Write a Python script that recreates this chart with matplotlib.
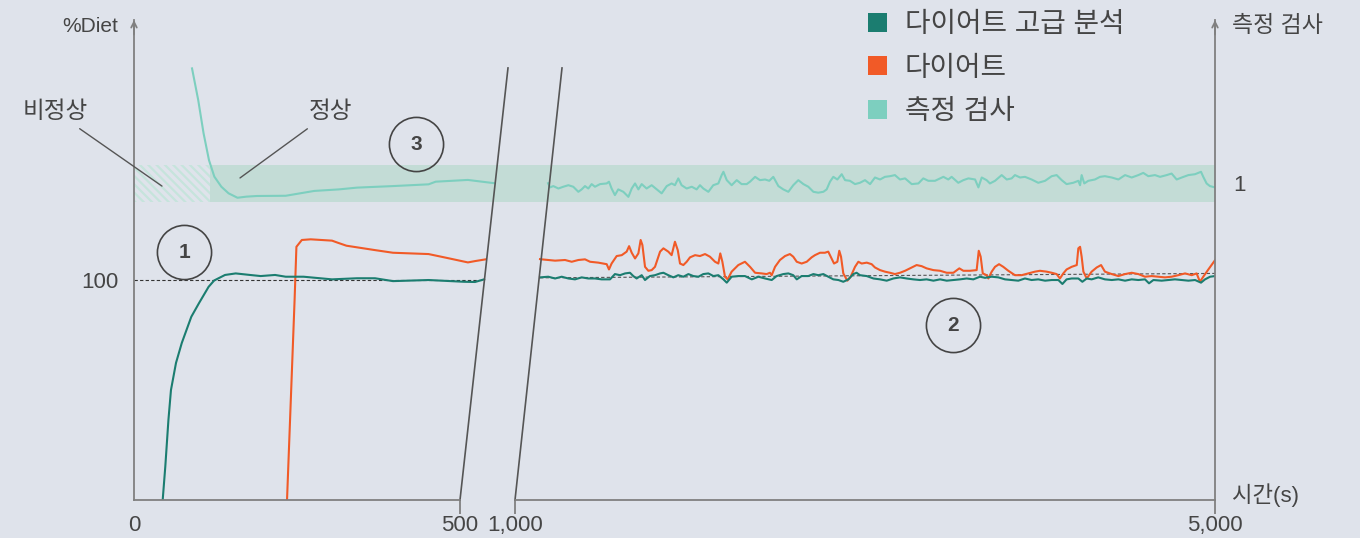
import matplotlib
matplotlib.use("Agg")
import matplotlib.pyplot as plt
from matplotlib.patches import Rectangle, Patch

plt.rcParams['font.family'] = ['Liberation Sans', 'Noto Sans CJK KR']
plt.rcParams['hatch.linewidth'] = 1.6

BG = "#dfe3eb"
TEAL = "#1b7d70"
ORANGE = "#f15a27"
LIGHT = "#7dcfbf"
BAND = "#c3dcd6"
TXT = "#454545"
AXC = "#808080"

# ---- data: 0-500 s (left part) ----
adv_t_a = [44, 48, 52.8, 56.7, 64.4, 73.3, 87.9, 99.7, 114.4, 123, 139.6, 156, 177.9, 194.3,
           216.3, 232.7, 260.1, 303.7, 342, 369.6, 397.2, 451.8, 506, 523, 537]
adv_v_a = [0, 15.2, 36.4, 50, 62.3, 71.4, 83.3, 89.5, 96.9, 99.8, 102.3, 103, 102.3, 101.8,
           102.3, 101.5, 101.5, 100.3, 100.8, 100.8, 99.5, 100, 99.2, 99.1, 100.3]

diet_t_a = [234.7, 246.3, 249.1, 257.4, 271, 303.7, 312.1, 325.8, 369.6, 397.1, 451.8, 479.1,
            512.1, 523, 539.4]
diet_v_a = [0, 90.9, 115.1, 118.2, 118.5, 117.9, 117, 115.6, 113.6, 112.4, 111.8, 110.1,
            108, 108.6, 109.4]

test_t_a = [89, 98.5, 106.7, 115, 123.2, 134, 145.1, 158.7, 172.4, 188.7, 232.7, 276.5, 314.4,
            342, 397.1, 451.8, 462.7, 512.1, 533.7, 553]
test_v_a = [196.2, 181.8, 166.7, 154.5, 147, 142.4, 139.4, 137.4, 137.9, 138.2, 138.3, 140.5,
            141.2, 142, 142.7, 143.5, 144.7, 145.5, 144.7, 144]

# ---- data: 1,000-5,000 s (right part) ----
diet_t_b = [1143, 1152, 1229, 1286, 1324, 1362, 1400, 1429, 1476, 1524, 1537, 1552, 1581, 1610,
            1638, 1652, 1667, 1686, 1705, 1718, 1728, 1743, 1762, 1781, 1800, 1829, 1848, 1876,
            1895, 1914, 1930, 1943, 1962, 1981, 2000, 2029, 2057, 2086, 2114, 2143, 2162, 2173,
            2185, 2200, 2215, 2238, 2276, 2314, 2343, 2372, 2410, 2438, 2457, 2467, 2486, 2514,
            2543, 2571, 2590, 2610, 2638, 2667, 2695, 2714, 2743, 2771, 2790, 2804, 2823, 2842,
            2853, 2863, 2876, 2899, 2918, 2943, 2962, 2981, 3010, 3038, 3057, 3086, 3114, 3143,
            3171, 3200, 3229, 3257, 3295, 3324, 3352, 3391, 3429, 3467, 3505, 3539, 3562, 3600,
            3638, 3650, 3661, 3673, 3695, 3705, 3724, 3743, 3766, 3790, 3819, 3857, 3895, 3933,
            3971, 4000, 4038, 4067, 4095, 4114, 4133, 4152, 4181, 4210, 4219, 4229, 4238, 4248,
            4267, 4295, 4324, 4349, 4371, 4410, 4448, 4486, 4524, 4562, 4600, 4638, 4676, 4714,
            4752, 4790, 4829, 4867, 4895, 4914, 4933, 4962, 5000]
diet_v_b = [109.5, 109.4, 108.8, 109.1, 108.3, 109.1, 109.4, 108.3, 107.9, 107.2, 104.8, 107.5,
            110.9, 111.3, 112.9, 115.4, 112.4, 109.8, 112.1, 118.2, 115.9, 106.0, 104.2, 104.5,
            106.0, 112.9, 114.4, 112.9, 111.3, 117.4, 113.6, 107.5, 106.8, 108.3, 110.3, 111.3,
            110.9, 111.8, 110.6, 108.3, 107.5, 112.1, 108.3, 101.5, 100.3, 103.8, 106.8, 108.3,
            106.0, 103.3, 103.0, 102.7, 103.3, 102.2, 106.0, 109.1, 110.9, 111.8, 110.6, 108.3,
            107.5, 108.3, 110.3, 111.3, 112.4, 112.4, 112.9, 110.6, 107.5, 108.3, 113.3, 110.6,
            103.0, 99.7, 101.5, 106.0, 108.3, 107.5, 107.9, 107.2, 105.7, 104.5, 103.8, 103.3,
            102.7, 103.3, 104.2, 105.3, 106.8, 106.3, 105.3, 104.5, 104.2, 103.3, 103.3, 105.3,
            104.2, 104.2, 104.5, 113.3, 110.6, 103.0, 102.2, 100.7, 103.8, 106.0, 107.2, 106.0,
            104.2, 102.2, 102.2, 103.0, 103.8, 104.2, 103.8, 103.3, 102.7, 100.7, 103.0, 104.8,
            106.0, 106.8, 114.4, 115.1, 110.6, 103.8, 100.7, 103.8, 105.7, 106.8, 103.8, 102.7,
            101.8, 102.7, 103.3, 102.7, 101.5, 101.8, 101.5, 101.2, 101.5, 102.2, 103.0, 102.2,
            103.0, 99.2, 101.5, 104.8, 109.0]

adv_t_b = [1143, 1190, 1229, 1267, 1305, 1343, 1381, 1419, 1457, 1495, 1543, 1571, 1600, 1629,
           1657, 1676, 1695, 1724, 1743, 1771, 1800, 1829, 1848, 1876, 1905, 1933, 1962, 1991,
           2019, 2048, 2076, 2105, 2134, 2162, 2191, 2210, 2238, 2276, 2314, 2353, 2391, 2429,
           2467, 2495, 2533, 2562, 2590, 2610, 2638, 2676, 2705, 2733, 2762, 2790, 2819, 2848,
           2876, 2905, 2933, 2952, 2971, 3010, 3048, 3086, 3124, 3162, 3200, 3238, 3276, 3314,
           3352, 3391, 3429, 3467, 3505, 3543, 3581, 3619, 3657, 3686, 3724, 3762, 3800, 3838,
           3876, 3914, 3952, 3990, 4029, 4067, 4105, 4128, 4152, 4181, 4219, 4242, 4267, 4295,
           4333, 4371, 4410, 4448, 4486, 4524, 4562, 4600, 4623, 4648, 4695, 4733, 4771, 4810,
           4848, 4886, 4920, 4943, 4972, 5000]
adv_v_b = [101.2, 101.5, 100.7, 101.5, 100.7, 100.3, 101.2, 100.7, 100.7, 100.3, 100.3, 102.7,
           102.2, 103.0, 103.3, 101.8, 100.7, 102.2, 100.0, 101.8, 102.2, 103.0, 103.3, 102.2,
           101.2, 102.2, 101.5, 102.7, 101.8, 101.5, 102.7, 103.0, 101.8, 102.2, 100.3, 98.8,
           101.5, 101.8, 101.8, 100.3, 101.5, 100.7, 100.0, 101.8, 102.7, 103.0, 102.2, 100.3,
           101.8, 101.8, 102.7, 102.2, 102.7, 101.5, 100.3, 100.0, 99.2, 100.3, 102.7, 103.3,
           102.2, 101.8, 100.7, 100.3, 99.7, 100.7, 101.2, 100.7, 100.3, 100.0, 100.3, 99.7,
           100.3, 99.7, 100.0, 100.3, 100.7, 100.3, 101.5, 101.0, 101.5, 101.2, 100.3, 100.0,
           99.7, 100.7, 100.0, 100.3, 99.7, 100.0, 100.0, 98.2, 100.3, 100.7, 100.7, 99.2,
           100.7, 100.3, 101.2, 100.3, 100.0, 100.3, 99.7, 100.3, 100.0, 100.3, 98.5, 100.0,
           99.7, 100.0, 100.3, 100.0, 99.7, 100.0, 98.8, 100.3, 101.5, 101.8]

test_t_b = [1189, 1200, 1219, 1248, 1276, 1305, 1333, 1362, 1381, 1400, 1419, 1438, 1457, 1486,
            1524, 1537, 1552, 1571, 1590, 1619, 1648, 1667, 1686, 1705, 1724, 1752, 1781, 1810,
            1838, 1867, 1895, 1914, 1933, 1952, 1981, 2010, 2038, 2057, 2076, 2105, 2133, 2162,
            2181, 2191, 2210, 2238, 2267, 2295, 2324, 2343, 2372, 2400, 2429, 2453, 2476, 2505,
            2533, 2562, 2590, 2619, 2648, 2676, 2705, 2733, 2762, 2781, 2800, 2819, 2842, 2867,
            2886, 2914, 2943, 2971, 3000, 3029, 3057, 3086, 3114, 3143, 3171, 3200, 3229, 3267,
            3305, 3333, 3362, 3400, 3448, 3476, 3495, 3533, 3562, 3591, 3629, 3648, 3667, 3695,
            3714, 3743, 3781, 3810, 3838, 3857, 3886, 3914, 3952, 3990, 4029, 4067, 4095, 4124,
            4152, 4190, 4219, 4229, 4238, 4253, 4276, 4314, 4343, 4371, 4410, 4448, 4486, 4524,
            4562, 4590, 4619, 4657, 4686, 4724, 4752, 4781, 4810, 4848, 4886, 4905, 4920, 4933,
            4952, 4971, 5000]
test_v_b = [144.0, 142.1, 142.7, 141.6, 142.4, 143.1, 142.4, 140.1, 141.2, 142.7, 141.6, 143.6,
            142.4, 143.6, 143.9, 144.7, 141.6, 138.6, 141.2, 140.1, 137.8, 141.6, 143.9, 141.2,
            143.6, 141.6, 143.1, 141.2, 139.4, 142.7, 143.9, 143.1, 146.2, 143.1, 141.6, 142.4,
            141.2, 143.1, 141.6, 140.1, 143.1, 143.9, 147.7, 149.2, 145.4, 143.1, 145.4, 143.6,
            143.6, 144.7, 146.9, 145.4, 145.7, 145.1, 146.9, 142.7, 141.2, 140.1, 143.1, 145.4,
            143.6, 142.4, 140.1, 139.7, 140.1, 141.2, 144.7, 146.9, 145.7, 148.1, 145.4, 145.1,
            143.6, 144.2, 145.4, 143.6, 146.6, 145.7, 146.9, 147.2, 147.7, 145.7, 146.2, 143.6,
            143.9, 146.2, 145.1, 145.1, 146.9, 145.7, 146.9, 144.2, 145.4, 146.2, 145.7, 142.1,
            146.6, 145.4, 143.9, 145.1, 147.7, 145.7, 146.2, 147.7, 146.6, 146.9, 145.7, 144.2,
            145.1, 147.2, 147.7, 145.4, 143.6, 144.2, 145.1, 143.1, 147.7, 143.9, 145.1, 145.7,
            146.9, 147.2, 146.6, 145.7, 147.7, 146.6, 147.7, 148.7, 147.2, 147.7, 146.9, 147.7,
            148.4, 145.7, 146.6, 147.7, 148.1, 148.7, 149.2, 146.9, 143.9, 142.7, 142.1]

band_low, band_high = 135.5, 152.3   # normal range of 측정 검사
unsteady_end = 116.6                  # end of 비정상 phase (s)

labels = ["다이어트 고급 분석", "다이어트", "측정 검사"]

fig = plt.figure(figsize=(13.6, 5.38), dpi=100, facecolor=BG)
ax1 = fig.add_axes([134 / 1360, 38 / 538, 366 / 1360, 480 / 538])
ax2 = fig.add_axes([500 / 1360, 38 / 538, 715 / 1360, 480 / 538])
for ax in (ax1, ax2):
    ax.set_facecolor("none")
    ax.set_ylim(0, 218.2)
    ax.spines['top'].set_visible(False)
    for s in ax.spines.values():
        s.set_color(AXC)
        s.set_linewidth(1.3)
ax1.set_xlim(0, 561.35)
ax2.set_xlim(914.3, 5000)
ax1.spines['right'].set_visible(False)
ax2.spines['left'].set_visible(False)
ax1.spines['bottom'].set_bounds(0, 500)
ax2.spines['bottom'].set_bounds(1000, 5000)

# band + hatch
ax1.add_patch(Rectangle((0, band_low), unsteady_end, band_high - band_low, facecolor="none",
                        edgecolor="#c6e4dc", hatch="\\\\\\\\", linewidth=0))
ax1.add_patch(Rectangle((unsteady_end, band_low), 600, band_high - band_low,
                        facecolor=BAND, edgecolor="none", clip_on=True))
ax2.axhspan(band_low, band_high, color=BAND, lw=0)

# reference dashed lines
ax1.plot([0, 537], [100, 100], ls=(0, (3, 2)), color="#333333", lw=0.8)
ax2.plot([1143, 5000], [101.0, 103.0], ls=(0, (3, 2)), color="#555555", lw=0.8)

# series
ax1.plot(test_t_a, test_v_a, color=LIGHT, lw=1.5)
ax2.plot(test_t_b, test_v_b, color=LIGHT, lw=1.5)
ax1.plot(diet_t_a, diet_v_a, color=ORANGE, lw=1.5)
ax2.plot(diet_t_b, diet_v_b, color=ORANGE, lw=1.5)
ax1.plot(adv_t_a, adv_v_a, color=TEAL, lw=1.5)
ax2.plot(adv_t_b, adv_v_b, color=TEAL, lw=1.5)

# break lines
ax1.plot([500, 573.6], [0, 196.4], color="#555555", lw=1.2, clip_on=False)
ax2.plot([1000, 1268.6], [0, 196.4], color="#555555", lw=1.2, clip_on=False)

# ticks
ax1.set_xticks([0, 500], ["0", "500"])
ax2.set_xticks([1000, 5000], ["1,000", "5,000"])
for ax in (ax1, ax2):
    ax.tick_params(axis='x', length=10, width=1.3, color=AXC, labelsize=16, labelcolor=TXT, pad=1)
ax1.xaxis.get_major_ticks()[0].tick1line.set_visible(False)
ax1.set_yticks([100], ["100"])
ax1.tick_params(axis='y', length=0, labelsize=16, labelcolor=TXT, pad=11.5)
ax2.set_yticks([144.1], ["1"])
ax2.yaxis.tick_right()
ax2.tick_params(axis='y', length=0, labelsize=16, labelcolor=TXT, pad=13)

# axis arrows
for ax, xf in ((ax1, 0), (ax2, 1)):
    ax.annotate('', xy=(xf, 1.0), xycoords='axes fraction', xytext=(xf, 0.97),
                arrowprops=dict(arrowstyle='->', color=AXC, lw=1.3, shrinkA=0, shrinkB=0,
                                mutation_scale=10))

fig.text(118 / 1360, 1 - 27 / 538, "%Diet", ha='right', va='center', fontsize=15, color=TXT)
fig.text(1232 / 1360, 1 - 26 / 538, "측정 검사", ha='left', va='center', fontsize=16.5, color=TXT)
fig.text(1232 / 1360, 1 - 495 / 538, "시간(s)", ha='left', va='center', fontsize=16, color=TXT)

# phase annotations
ax1.annotate("비정상", xy=(42.9, 142.7), xytext=(-70.6, 176.5), ha='right', va='center',
             fontsize=17, color=TXT, annotation_clip=False,
             arrowprops=dict(arrowstyle='-', color="#555555", lw=1, shrinkA=4, shrinkB=0))
ax1.annotate("정상", xy=(162.6, 146.4), xytext=(268.4, 176.5), ha='left', va='center',
             fontsize=17, color=TXT, annotation_clip=False,
             arrowprops=dict(arrowstyle='-', color="#555555", lw=1, shrinkA=4, shrinkB=0))

# numbered circles
for ax, x, y, n in ((ax1, 76.7, 112.7, "1"), (ax1, 432.5, 161.8, "3"), (ax2, 3503, 79.5, "2")):
    ax.plot([x], [y], marker='o', ms=39, mfc='none', mec="#444444", mew=1.2, clip_on=False)
    ax.text(x, y, n, ha='center', va='center', fontsize=15, fontweight='bold', color="#444444")

handles = [Patch(facecolor=c, edgecolor='none') for c in (TEAL, ORANGE, LIGHT)]
fig.legend(handles, labels, loc='upper left', bbox_to_anchor=(868 / 1360, 1 - 12 / 538),
           frameon=False, fontsize=20, handlelength=0.68, handleheight=0.68,
           handletextpad=0.65, labelspacing=0.63, labelcolor=TXT,
           borderpad=0, borderaxespad=0)

fig.savefig("out.png", dpi=100, facecolor=BG)
